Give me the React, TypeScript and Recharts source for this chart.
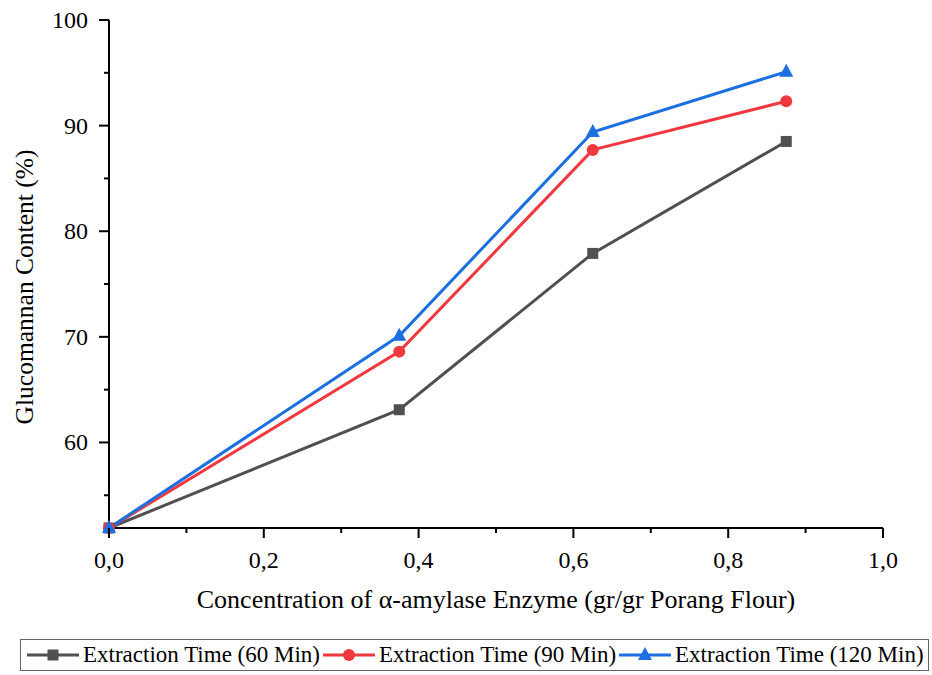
import React from "react";
import { LineChart, Line, XAxis, YAxis } from "recharts";

const concentration = [0, 0.375, 0.625, 0.875];
const time60 = [51.9, 63.1, 77.9, 88.5];
const time90 = [51.9, 68.6, 87.7, 92.3];
const time120 = [51.9, 70.1, 89.4, 95.1];

const xTicks = [0, 0.1, 0.2, 0.3, 0.4, 0.5, 0.6, 0.7, 0.8, 0.9, 1.0];
const yTicks = [55, 60, 65, 70, 75, 80, 85, 90, 95, 100];

const series = [
  { key: "t60", name: "Extraction Time (60 Min)", color: "#505050", shape: "square", values: time60 },
  { key: "t90", name: "Extraction Time (90 Min)", color: "#f0393f", shape: "circle", values: time90 },
  { key: "t120", name: "Extraction Time (120 Min)", color: "#1b6fe0", shape: "triangle", values: time120 },
];

const data = concentration.map((c, i) => {
  const row: Record<string, number> = { x: c };
  series.forEach((s) => {
    row[s.key] = s.values[i];
  });
  return row;
});

const FONT = "'Liberation Serif', 'Times New Roman', serif";

const Marker = ({ cx, cy, shape, color }: any) => {
  if (cx == null || cy == null) return null;
  if (shape === "square") {
    return <rect x={cx - 5.5} y={cy - 5.5} width={11} height={11} fill={color} />;
  }
  if (shape === "circle") {
    return <circle cx={cx} cy={cy} r={6} fill={color} />;
  }
  return (
    <polygon
      points={`${cx},${cy - 8} ${cx + 7},${cy + 5} ${cx - 7},${cy + 5}`}
      fill={color}
    />
  );
};

const fmt = (v: number) => v.toFixed(1).replace(".", ",");

const XTick = ({ x, y, payload }: any) => {
  const v = payload.value;
  const major = Math.round(v * 10) % 2 === 0;
  return (
    <g>
      <line x1={x} x2={x} y1={y} y2={y + (major ? 10 : 5)} stroke="#000" strokeWidth={2} />
      {major && (
        <text x={x} y={y + 40} textAnchor="middle" fontSize={24} fontFamily={FONT} fill="#000">
          {fmt(v)}
        </text>
      )}
    </g>
  );
};

const YTick = ({ x, y, payload }: any) => {
  const v = payload.value;
  const major = v % 10 === 0;
  return (
    <g>
      <line x1={x} x2={x - (major ? 10 : 5)} y1={y} y2={y} stroke="#000" strokeWidth={2} />
      {major && (
        <text x={x - 21} y={y} textAnchor="end" dominantBaseline="central" fontSize={24} fontFamily={FONT} fill="#000">
          {v}
        </text>
      )}
    </g>
  );
};

const YTitle = ({ viewBox }: any) => {
  const cx = 24;
  const cy = viewBox.y + viewBox.height / 2 + 13;
  return (
    <text
      x={cx}
      y={cy}
      transform={`rotate(-90 ${cx} ${cy})`}
      textAnchor="middle"
      dominantBaseline="central"
      fontSize={25.5}
      fontFamily={FONT}
      fill="#000"
    >
      Glucomannan Content (%)
    </text>
  );
};

const XTitle = ({ viewBox }: any) => {
  const cx = viewBox.x + viewBox.width / 2;
  return (
    <text x={cx} y={608} textAnchor="middle" fontSize={26} fontFamily={FONT} fill="#000">
      Concentration of α-amylase Enzyme (gr/gr Porang Flour)
    </text>
  );
};

const LegendBox = () => (
  <div
    style={{
      position: "absolute",
      left: 20,
      top: 639,
      width: 909,
      height: 32,
      border: "1px solid #666",
      boxSizing: "border-box",
      display: "flex",
      alignItems: "center",
      paddingLeft: 6,
      fontFamily: FONT,
      fontSize: 23,
      whiteSpace: "nowrap",
    }}
  >
    {series.map((s) => (
      <div key={s.key} style={{ display: "flex", alignItems: "center", marginRight: 3 }}>
        <svg width={52} height={20} style={{ marginRight: 4 }}>
          <line x1={0} x2={52} y1={10} y2={10} stroke={s.color} strokeWidth={3} />
          <Marker cx={26} cy={10} shape={s.shape} color={s.color} />
        </svg>
        <span>{s.name}</span>
      </div>
    ))}
  </div>
);

export default function App() {
  return (
    <div style={{ position: "absolute", left: 0, top: 0, width: 932, height: 675, background: "#fff" }}>
      <LineChart width={932} height={675} data={data} margin={{ top: 20, right: 49, left: 0, bottom: 0 }}>
        <XAxis
          dataKey="x"
          type="number"
          domain={[0, 1]}
          ticks={xTicks}
          interval={0}
          height={147}
          tickSize={0}
          tickMargin={0}
          tickLine={false}
          tick={<XTick />}
          axisLine={{ stroke: "#000", strokeWidth: 2 }}
          label={<XTitle />}
        />
        <YAxis
          type="number"
          domain={[51.9, 100]}
          ticks={yTicks}
          interval={0}
          width={109}
          tickSize={0}
          tickMargin={0}
          tickLine={false}
          tick={<YTick />}
          axisLine={{ stroke: "#000", strokeWidth: 2 }}
          label={<YTitle />}
        />
        {series.map((s) => (
          <Line
            key={s.key}
            dataKey={s.key}
            name={s.name}
            type="linear"
            stroke={s.color}
            strokeWidth={3}
            isAnimationActive={false}
            dot={(p: any) => <Marker key={`${s.key}-${p.index}`} cx={p.cx} cy={p.cy} shape={s.shape} color={s.color} />}
            activeDot={false}
          />
        ))}
      </LineChart>
      <LegendBox />
    </div>
  );
}
